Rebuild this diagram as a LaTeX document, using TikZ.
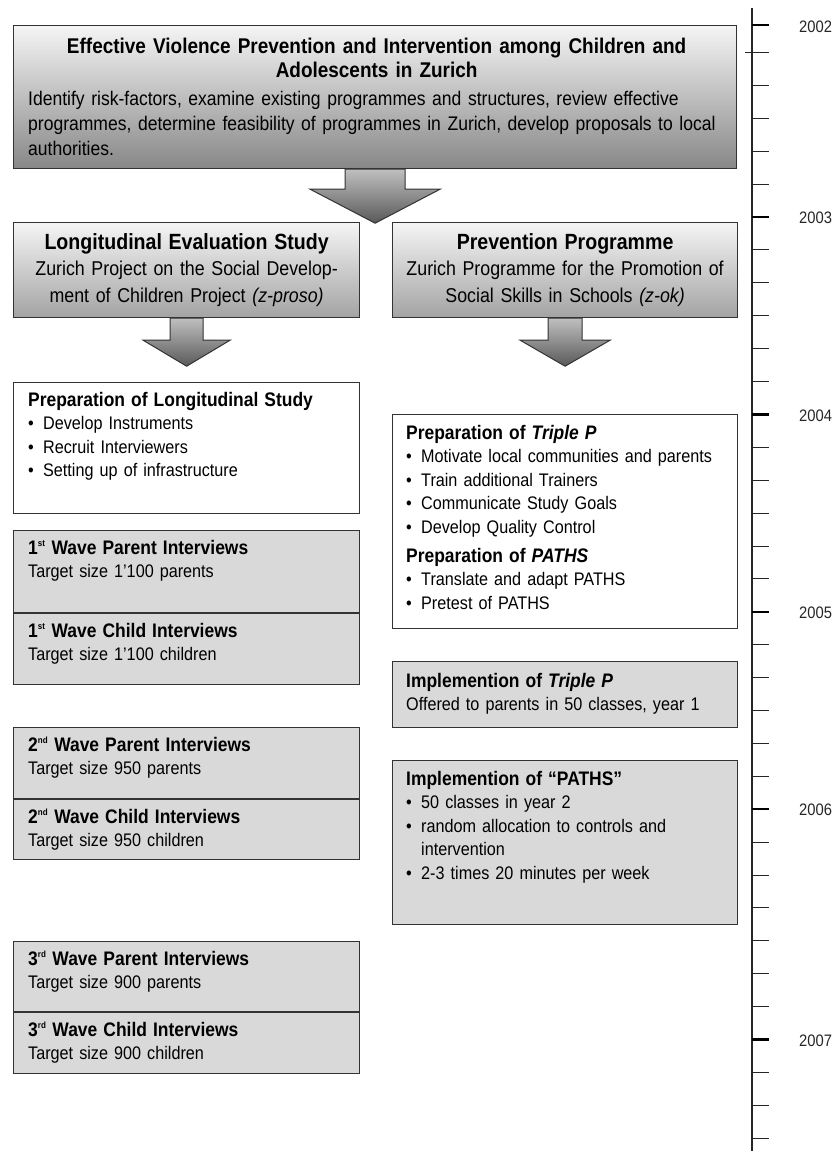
\documentclass[tikz,border=0pt]{standalone}
\usepackage{fontspec}
\setmainfont{Liberation Sans}[FakeStretch=0.89]
\usetikzlibrary{calc}

\newcommand{\wavesup}[1]{\textsuperscript{\fontsize{9}{9}\selectfont #1}}
\newcommand{\boxtitle}[1]{{\bfseries\fontsize{19.6}{23.5}\selectfont #1}}
\newcommand{\bitem}[1]{\makebox[15pt][l]{\textbullet}#1}

\begin{document}
\begin{tikzpicture}[x=1pt,y=-1pt,
    boxline/.style={draw=black!80,line width=1.2pt},
    fadebox/.style={boxline,top color=black!4,bottom color=black!47,anchor=north west,inner sep=0},
    greybox/.style={boxline,fill=black!15,anchor=north west,inner sep=0,minimum width=346pt},
    whitebox/.style={boxline,fill=white,anchor=north west,inner sep=0,minimum width=346pt},
    blockarrow/.style={draw=black!80,line width=1pt,top color=black!25,bottom color=black!65},
    boxtext/.style={anchor=base west,inner sep=0,text width=322pt,align=left,
      font=\fontsize{18.2}{23.5}\selectfont},
    headtext/.style={anchor=base,inner sep=0,text width=340pt,align=center,
      font=\fontsize{20}{26.5}\selectfont},
    yearlabel/.style={anchor=west,inner sep=0,text=black!85,font=\fontsize{16.6}{18}\selectfont}]
  \useasboundingbox (0,0) rectangle (835,1151);

  % top box
  \node[fadebox,minimum width=723pt,minimum height=143pt] (goal) at (13,25) {};
  \node[headtext,text width=700pt,font=\bfseries\fontsize{21.3}{24}\selectfont] (goal-title)
    at ($(goal.north)+(1.5,28)$)
    {Effective Violence Prevention and Intervention among Children and\\Adolescents in Zurich};
  \node[boxtext,text width=720pt,font=\fontsize{19.7}{25}\selectfont] (goal-text)
    at ($(goal.north west)+(15,80)$)
    {Identify risk-factors, examine existing programmes and structures, review effective\\
     programmes, determine feasibility of programmes in Zurich, develop proposals to local\\
     authorities.};

  % the two branches
  \node[fadebox,bottom color=black!36,minimum width=346pt,minimum height=95pt] (study) at (13,222) {};
  \node[headtext] (study-text) at ($(study.north)+(0,27)$)
    {{\bfseries\fontsize{22}{26.5}\selectfont Longitudinal Evaluation Study}\\
     Zurich Project on the Social Develop-\\ment of Children Project \textit{(z-proso)}};
  \node[fadebox,bottom color=black!36,minimum width=345pt,minimum height=95pt] (prog) at (392,222) {};
  \node[headtext] (prog-text) at ($(prog.north)+(0,27)$)
    {{\bfseries\fontsize{22}{26.5}\selectfont Prevention Programme}\\
     Zurich Programme for the Promotion of\\Social Skills in Schools \textit{(z-ok)}};

  % block arrows, tip of the big one = top of the branch boxes (168+54=222)
  \draw[blockarrow] ($(goal.south)+(-30,0)$) -- ($(goal.south)+(30,0)$) -- ($(goal.south)+(30,20)$)
    -- ($(goal.south)+(65,20)$) -- ($(goal.south)+(0,54)$) -- ($(goal.south)+(-65,20)$)
    -- ($(goal.south)+(-30,20)$) -- cycle;
  \draw[blockarrow] ($(study.south)+(-16.5,0)$) -- ($(study.south)+(16.5,0)$) -- ($(study.south)+(16.5,22)$)
    -- ($(study.south)+(43.5,22)$) -- ($(study.south)+(0,48)$) -- ($(study.south)+(-43.5,22)$)
    -- ($(study.south)+(-16.5,22)$) -- cycle;
  \draw[blockarrow] ($(prog.south)+(-17,0)$) -- ($(prog.south)+(17,0)$) -- ($(prog.south)+(17,22)$)
    -- ($(prog.south)+(45,22)$) -- ($(prog.south)+(0,48)$) -- ($(prog.south)+(-45,22)$)
    -- ($(prog.south)+(-17,22)$) -- cycle;

  % longitudinal study
  \node[whitebox,minimum height=131pt] (prepstudy) at (13,382) {};
  \node[boxtext] (prepstudy-text) at ($(prepstudy.north west)+(15,24)$)
    {\boxtitle{Preparation of Longitudinal Study}\\
     \bitem{Develop Instruments}\\
     \bitem{Recruit Interviewers}\\
     \bitem{Setting up of infrastructure}};

  \node[greybox,minimum height=82pt] (wave1p) at (13,530) {};
  \node[greybox,minimum height=71pt] (wave1c) at (wave1p.south west) {};
  \node[boxtext] (wave1p-text) at ($(wave1p.north west)+(15,24)$)
    {\boxtitle{1\wavesup{st} Wave Parent Interviews}\\Target size 1’100 parents};
  \node[boxtext] (wave1c-text) at ($(wave1c.north west)+(15,24)$)
    {\boxtitle{1\wavesup{st} Wave Child Interviews}\\Target size 1’100 children};

  \node[greybox,minimum height=71pt] (wave2p) at (13,727) {};
  \node[greybox,minimum height=60pt] (wave2c) at (wave2p.south west) {};
  \node[boxtext] (wave2p-text) at ($(wave2p.north west)+(15,24)$)
    {\boxtitle{2\wavesup{nd} Wave Parent Interviews}\\Target size 950 parents};
  \node[boxtext] (wave2c-text) at ($(wave2c.north west)+(15,24)$)
    {\boxtitle{2\wavesup{nd} Wave Child Interviews}\\Target size 950 children};

  \node[greybox,minimum height=70pt] (wave3p) at (13,941) {};
  \node[greybox,minimum height=61pt] (wave3c) at (wave3p.south west) {};
  \node[boxtext] (wave3p-text) at ($(wave3p.north west)+(15,24)$)
    {\boxtitle{3\wavesup{rd} Wave Parent Interviews}\\Target size 900 parents};
  \node[boxtext] (wave3c-text) at ($(wave3c.north west)+(15,24)$)
    {\boxtitle{3\wavesup{rd} Wave Child Interviews}\\Target size 900 children};

  % prevention programme
  \node[whitebox,minimum width=345pt,minimum height=214pt] (prepprog) at (392,414) {};
  \node[boxtext] (prepprog-text) at ($(prepprog.north west)+(14,25)$)
    {\boxtitle{Preparation of \textit{Triple P}}\\
     \bitem{Motivate local communities and parents}\\
     \bitem{Train additional Trainers}\\
     \bitem{Communicate Study Goals}\\
     \bitem{Develop Quality Control}\\[5.5pt]
     \boxtitle{Preparation of \textit{PATHS}}\\
     \bitem{Translate and adapt PATHS}\\
     \bitem{Pretest of PATHS}};

  \node[greybox,minimum width=345pt,minimum height=66pt] (impltriple) at (392,661) {};
  \node[boxtext] (impltriple-text) at ($(impltriple.north west)+(14,26)$)
    {\boxtitle{Implemention of \textit{Triple P}}\\Offered to parents in 50 classes, year 1};

  \node[greybox,minimum width=345pt,minimum height=164pt] (implpaths) at (392,760) {};
  \node[boxtext] (implpaths-text) at ($(implpaths.north west)+(14,25)$)
    {\boxtitle{Implemention of “PATHS”}\\
     \bitem{50 classes in year 2}\\
     \bitem{random allocation to controls and}\\
     \hspace*{15pt}intervention\\
     \bitem{2-3 times 20 minutes per week}};

  % time line, one tick every two months
  \draw[line width=1.2pt,black!85] (752,8) -- (752,1151);
  \draw[line width=1pt,black!85] (745,52.5) -- (769,52.5);
  \foreach \k in {1,...,33}
    \draw[line width=1pt,black!85] (752,52.5+32.9*\k) -- (769,52.5+32.9*\k);
  \draw[line width=2.5pt] (752,25) -- (769,25);
  \node[yearlabel] (y2002) at (799,27) {2002};
  \foreach \k/\yr in {5/2003,11/2004,17/2005,23/2006,30/2007} {
    \draw[line width=2.5pt] (752,52.5+32.9*\k) -- (769,52.5+32.9*\k);
    \node[yearlabel] (y\yr) at (799,53.5+32.9*\k) {\yr};
  }
\end{tikzpicture}
\end{document}
